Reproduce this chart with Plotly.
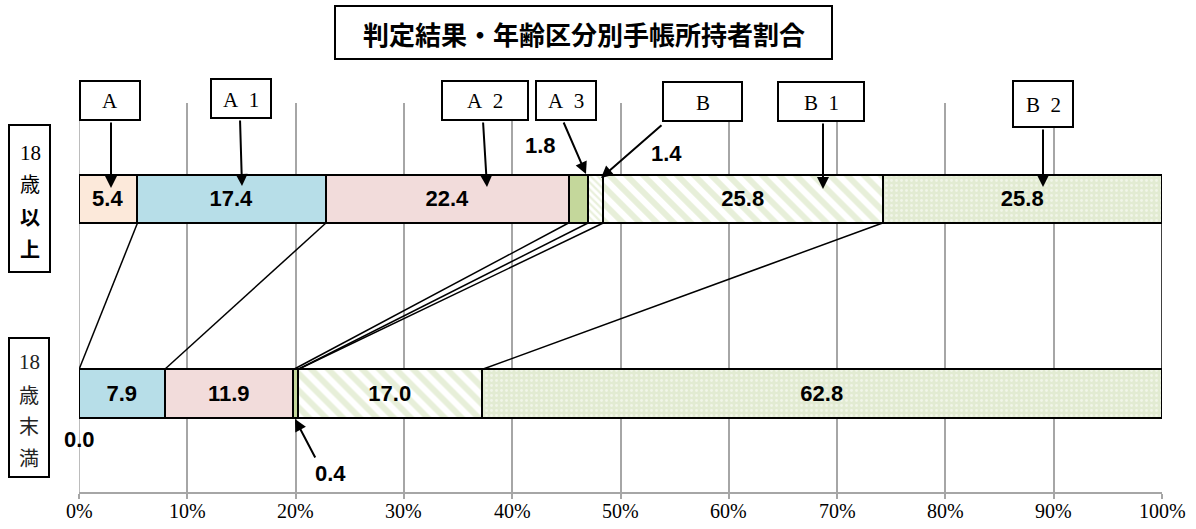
import plotly.graph_objects as go

# ---------------- data ----------------
groups = ["18歳未満", "18歳以上"]          # bottom bar, top bar
categories = ["A", "A1", "A2", "A3", "B", "B1", "B2"]
box_labels = ["A", "A\u00a0\u00a01", "A\u00a0\u00a02", "A\u00a0\u00a03", "B", "B\u00a0\u00a01", "B\u00a0\u00a02"]
under18 = [0.0, 7.9, 11.9, 0.4, 0.0, 17.0, 62.8]
over18 = [5.4, 17.4, 22.4, 1.8, 1.4, 25.8, 25.8]
tick_vals = [0, 10, 20, 30, 40, 50, 60, 70, 80, 90, 100]
tick_text = ["0%", "10%", "20%", "30%", "40%", "50%", "60%", "70%", "80%", "90%", "100%"]
title_text = "判定結果・年齢区分別手帳所持者割合"

# ---------------- layout helpers ----------------
W, H = 1196, 529
L, R, T, B = 79, 1162, 103, 492


def pp(x, y):
    """pixel -> paper coordinates"""
    return (x - L) / (R - L), (B - y) / (B - T)


BAR_W = 0.247
Y_BOTTOM, Y_TOP = 0, 1

styles = {
    "A": dict(color="#FCE9DA"),
    "A1": dict(color="#B7DEE8"),
    "A2": dict(color="#F2DCDB"),
    "A3": dict(color="#C4D79B"),
    "B": dict(color="white", pattern=dict(shape="\\", fgcolor="#D3E1B8", bgcolor="white", size=5, solidity=0.45)),
    "B1": dict(color="white", pattern=dict(shape="\\", fgcolor="#D0DFB3", bgcolor="white", size=12, solidity=0.5)),
    "B2": dict(color="#E6EED8", pattern=dict(shape=".", fgcolor="white", bgcolor="#E2EBD2", size=5, solidity=0.25)),
}

LABEL_FONT = dict(family="Liberation Sans, Arial, sans-serif", size=22, color="black")
SERIF = "Liberation Serif, DejaVu Serif, serif"
CJK = "Noto Sans CJK JP"


def fmt(v):
    return f"{v:.1f}"


fig = go.Figure()
for i, cat in enumerate(categories):
    vals = [under18[i], over18[i]]
    texts = [f"<b>{fmt(v)}</b>" if v >= 3 else "" for v in vals]
    fig.add_trace(go.Bar(
        x=vals, y=[Y_BOTTOM, Y_TOP], orientation="h", width=BAR_W,
        name=cat, text=texts, textposition="inside", insidetextanchor="middle",
        textangle=0, textfont=LABEL_FONT, constraintext="none",
        marker=dict(line=dict(color="black", width=2.5), **styles[cat]),
        hoverinfo="skip", showlegend=False,
    ))

# series lines between the bars
cum_top, cum_bot = [], []
s1 = s2 = 0.0
for a, b in zip(over18, under18):
    s1 += a
    s2 += b
    cum_top.append(round(s1, 4))
    cum_bot.append(round(s2, 4))
lx, ly = [], []
for ct, cb in zip(cum_top, cum_bot):
    lx += [ct, cb, None]
    ly += [Y_TOP - BAR_W / 2, Y_BOTTOM + BAR_W / 2, None]
fig.add_trace(go.Scatter(x=lx, y=ly, mode="lines", line=dict(color="black", width=1.5),
                         hoverinfo="skip", showlegend=False, cliponaxis=False))

shapes = []
annotations = []


def box(x0, y0, x1, y1, lw=2):
    p0 = pp(x0, y1)
    p1 = pp(x1, y0)
    shapes.append(dict(type="rect", xref="paper", yref="paper", x0=p0[0], y0=p0[1], x1=p1[0], y1=p1[1],
                       line=dict(color="black", width=lw), fillcolor="white", layer="above"))


def text(x, y, t, font):
    px, py = pp(x, y)
    annotations.append(dict(xref="paper", yref="paper", x=px, y=py, text=t, showarrow=False,
                            xanchor="center", yanchor="middle", font=font))


def arrow(sx, sy, tx, ty):
    px, py = pp(tx, ty)
    annotations.append(dict(xref="paper", yref="paper", x=px, y=py, text="", showarrow=True,
                            ax=sx - tx, ay=sy - ty, arrowhead=2, arrowsize=1.2, arrowwidth=2,
                            arrowcolor="black", standoff=0, startstandoff=0))


# title
box(335, 6, 832, 59, lw=2)
text(584, 33, f"<b>{title_text}</b>", dict(family=CJK, size=26, color="black"))

# category label boxes with arrows
box_px = [(80, 81, 140, 120), (211, 79, 271, 118), (442, 81, 528, 120), (536, 81, 596, 120),
          (663, 82, 742, 121), (778, 82, 864, 121), (1013, 81, 1073, 127)]
arrows_px = [((111, 121), (111, 188)), ((240, 119), (242, 186)), ((483, 121), (487, 187)),
             ((563, 121), (586, 174)), ((663, 124), (601, 178)), ((823, 122), (823, 189)),
             ((1043, 128), (1043, 187))]
for lab, (x0, y0, x1, y1), (s, t) in zip(box_labels, box_px, arrows_px):
    box(x0, y0, x1, y1)
    text((x0 + x1) / 2, (y0 + y1) / 2 + 1, lab, dict(family=SERIF, size=21, color="black"))
    arrow(s[0], s[1], t[0], t[1])

# outside value labels for small segments
text(540, 145, f"<b>{fmt(over18[3])}</b>", LABEL_FONT)
text(666, 153, f"<b>{fmt(over18[4])}</b>", LABEL_FONT)
text(79, 439, f"<b>{fmt(under18[0])}</b>", LABEL_FONT)
text(330, 473, f"<b>{fmt(under18[3])}</b>", LABEL_FONT)
arrow(316, 459, 295, 419)

# group labels (vertical text in boxes)
box(9, 125, 50, 272)
for ch, cy, bold in [("18", 153, False), ("歳", 183, False), ("以", 216, True), ("上", 248, True)]:
    fam = SERIF if ch == "18" else CJK
    text(30, cy, f"<b>{ch}</b>" if bold else ch, dict(family=fam, size=21 if ch == "18" else 20, color="black"))
box(9, 338, 49, 477)
for ch, cy in [("18", 362), ("歳", 394), ("末", 425), ("満", 457)]:
    fam = SERIF if ch == "18" else CJK
    text(29, cy, ch, dict(family=fam, size=21 if ch == "18" else 20, color="#222222"))

# x tick labels (placed as annotations on the x axis scale)
_, tick_y = pp(0, 511)
for tv, tt in zip(tick_vals, tick_text):
    annotations.append(dict(xref="x", yref="paper", x=tv, y=tick_y, text=tt, showarrow=False,
                            xanchor="center", yanchor="middle",
                            font=dict(family=SERIF, size=20, color="black")))

fig.update_layout(
    width=W, height=H, margin=dict(l=L, r=W - R, t=T, b=H - B, pad=0, autoexpand=False),
    barmode="stack", bargap=0,
    plot_bgcolor="white", paper_bgcolor="white",
    shapes=shapes, annotations=annotations, showlegend=False,
    xaxis=dict(range=[0, 100], tickvals=tick_vals, showticklabels=False, showgrid=True,
               gridcolor="#A6A6A6", gridwidth=1.5, zeroline=False, showline=True,
               linecolor="#A6A6A6", linewidth=2, ticks="outside", ticklen=5, tickcolor="#A6A6A6",
               tickwidth=2, fixedrange=True, automargin=False),
    yaxis=dict(range=[-0.5064, 1.4936], showticklabels=False, showgrid=False, zeroline=False,
               showline=False, fixedrange=True, automargin=False),
)
# left gridline at 0%
fig.add_vline(x=0, line=dict(color="#A6A6A6", width=1.5), layer="below")

fig.write_html("out.html")
